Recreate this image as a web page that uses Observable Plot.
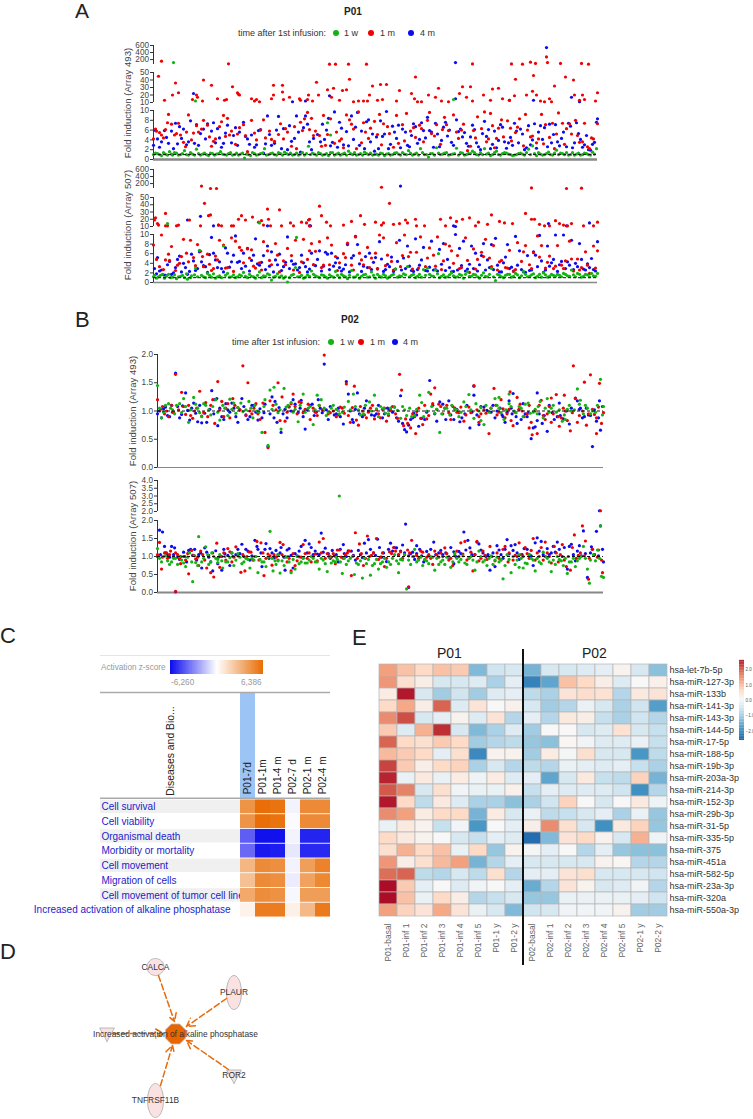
<!DOCTYPE html>
<html><head><meta charset="utf-8">
<script src="https://cdn.jsdelivr.net/npm/d3@7"></script>
<script src="https://cdn.jsdelivr.net/npm/@observablehq/plot@0.6"></script>
<style>
html,body{margin:0;padding:0;background:#fff}
#page{position:relative;width:753px;height:1119px;overflow:hidden;font-family:"Liberation Sans",Arial,sans-serif;color:#222}
.t{position:absolute;white-space:nowrap;line-height:1}
</style></head><body><div id="page"></div>
<script>
// Panels A and B: [probe order, fold induction], flat pairs
const a1Red=[8,155,75,80,176,70,182,70,195,70,213,70,319,75,358,75,369,70,377,125,382,90,393,275,394,115,407,90,428,90,435,70,
5,45,11,13,19,20,22,36,25,23,39,14,43,20,44,17,49,12,50,40,58,33,64,15,71,13,73,14,79,31,84,23,85,21,86,20,98,15,101,12,103,14,106,11,118,15,120,20,120,33,129,24,129,33,130,14,136,17,146,15,147,13,154,14,155,20,159,12,163,37,165,20,174,27,178,17,180,29,186,13,189,26,193,27,196,41,200,11,205,12,210,12,214,12,216,20,219,32,224,13,227,34,229,14,233,34,243,12,246,26,258,22,261,15,262,44,264,11,268,11,275,20,282,17,285,29,288,12,295,11,306,22,309,31,313,17,317,31,319,12,330,20,337,13,339,28,345,29,349,15,356,13,361,19,362,41,373,20,379,25,380,46,383,20,387,12,391,11,396,15,398,11,401,32,412,44,420,40,421,20,426,13,429,20,431,14,444,23,442,12,
0,4.2,3,5.8,6,5.5,10,4.4,12,6.1,15,9.2,18,7.2,21,5,25,7.4,27,5,30,3.5,33,5.6,35,9.1,40,5.4,45,5.6,50,8,54,7,58,2.7,62,4.2,66,6.7,70,9,74,8.4,78,5.8,82,3.1,86,6.5,90,7.1,94,1.6,98,8,103,4,107,6,112,4.4,116,5.8,121,3.7,125,5.1,130,4.2,134,5.6,138,2.7,143,2.2,147,7.6,151,8.3,154,9.6,158,8.4,162,5.8,166,4.9,170,9,174,5.1,177,8.3,181,3.3,186,3.8,190,2.4,196,8.1,200,6.2,205,9.7,208,3.4,212,5.6,217,6.4,221,7.8,226,9.2,230,7.3,236,5.3,240,2.5,245,3.3,249,7.1,253,9.4,257,5.8,262,4.5,266,7,270,3.6,274,8,278,5.3,283,7.1,287,3.1,291,8.6,295,5.9,300,9.1,305,4.3,310,7.2,314,1.8,320,5.9,324,8.7,328,6.3,333,3.6,337,9.4,341,2.4,345,6.4,350,4.6,354,7.9,358,3.8,362,5.5,366,8.3,370,2.8,374,6,379,4.8,383,3.4,388,9.2,392,7.1,396,4.5,401,2.2,405,9.5,409,7.4,413,6.3,418,5.2,422,8,426,3.5,431,7.4,436,2.2,440,4.2,444,7.3,
2,6.2,8,5,14,7.5,23,5.3,32,2.6,38,4,43,6.9,48,6.2,56,4.6,60,3.7,68,7.7,72,4.7,76,5,84,5.2,92,4.9,101,5.4,110,8.1,118,4.1,127,7.3,132,6.3,141,6.7,149,5.9,156,6.1,160,4.9,168,2.7,172,2.9,183,5.6,188,4.2,193,9.1,198,7.2,203,2.2,210,7.5,215,4.3,224,5.1,228,3,234,6.7,243,9,251,3.8,260,6.5,268,6.3,276,9.6,281,4.8,289,6.1,293,7.1,303,5.6,308,6,317,2.7,322,4.4,331,9.7,335,4.2,339,6.9,343,4.3,348,8.1,357,6.4,364,6.6,372,9.2,377,4.6,385,4.2,390,3.2,399,7.4,403,5.2,411,3.1,416,7.3,424,4.9,429,3.6,434,2.6,438,4.4];
const a1Blue=[393,540,302,115,
176,19,139,11,152,12,302,15,356,13,380,13,418,17,426,11,40,22,
0,2.9,4,4.2,8,3.6,11,5.9,15,3.3,18,5.8,22,7.4,26,6.7,30,6.2,33,3,37,7.9,41,3.3,45,2.9,50,6.2,54,7.3,58,5.8,62,3.4,66,4.4,70,3.3,74,7,78,3.4,82,6.5,86,5.6,90,7.6,94,4.2,98,5,103,3,107,6.1,112,3.2,116,5.1,121,3.3,125,8.8,130,6.3,134,2,138,3.7,143,8.9,147,1.5,152,8.9,156,3.6,160,4.3,164,5.1,169,7.2,173,6,177,2.8,181,9.7,186,7.6,190,3,195,2.8,200,4.1,204,9.6,208,5.8,213,7.7,217,3.6,221,1.7,225,2.2,229,4.7,233,9.8,237,3.1,241,5.6,245,7,249,6.2,254,2.9,258,4.9,262,6.7,266,4.1,270,5.9,274,8.6,278,5.6,282,7.4,286,2.6,290,6.6,294,4.8,298,3.5,303,8.1,307,6.2,311,5.5,315,2.7,319,7,323,3.4,327,2,331,7.8,335,6.1,339,3.1,343,2.4,347,7.1,351,3.6,355,3.4,359,2.9,363,5.8,367,6.2,371,2,375,6.9,379,4,383,2.3,387,6.9,391,6.5,396,7.2,400,5.1,404,3.6,408,4.3,413,2.6,417,6.8,421,3.4,425,5.3,429,2.5,433,4.9,437,1.9,441,3.5,444,8.3,
2,5.9,6,2.5,13,4.5,20,2.2,24,3.2,28,4.3,35,3.6,43,7.1,47,5.3,52,4.2,60,7.5,64,6.3,68,2.5,72,5.4,80,4.9,84,2.9,92,4.7,96,3.1,101,2.5,105,5.9,110,1.3,114,8.9,118,2.9,123,6,128,2.2,136,6.9,141,4.3,145,5.6,150,6.5,154,7.2,158,2,167,3.6,171,4.1,175,8.4,179,3.5,184,2.5,188,6.4,193,5.7,198,8.9,202,6.6,206,2.9,211,2.2,215,8.1,219,5.2,223,4.6,227,7.9,231,5.2,235,2.2,239,6.8,243,4.3,247,2.4,252,5.6,256,2.6,260,7.3,264,3.3,268,7.5,272,4.4,276,5.9,280,2.5,284,5.2,288,3.9,292,7.6,296,6,300,2.9,305,5.7,309,4.6,313,3.3,317,4.6,321,6.1,325,2.6,329,5.3,333,4.7,337,2.2,341,5.8,345,3.9,349,6.6,353,2.3,357,4.5,361,7.4,365,3.4,369,5.2,373,2.4,377,3,381,7.3,385,5.6,389,4.1,394,2.6,398,3.4,402,7.1,406,2.8,410,5.6,415,7.4,419,2.4,423,7.5,427,4.1,431,3,435,2,439,3.1,443,7.6];
const a1Green=[20,115,42,12,174,7.5,177,5,300,14,
0,1,4,1.2,8,.8,12,1.1,16,1.6,19,.9,23,1.3,27,1,31,1.8,35,.9,39,1.1,43,2.1,47,.9,51,1.3,55,.8,59,1.2,63,1.1,67,1.6,71,1,75,1.2,79,.9,83,1.3,87,1.1,91,.3,95,1,99,1.4,103,.9,107,1.2,111,2.2,115,1,119,1.3,123,.9,127,1.2,131,1.5,135,1,139,.9,143,1.3,147,1.1,151,.9,155,2.7,159,1.3,163,.9,167,1.2,171,1,175,.8,179,1.4,183,1.1,187,.9,191,1.3,195,1.7,199,1,203,.9,207,1.2,211,1.5,215,1,219,.9,223,1.1,227,1.3,231,.8,235,1.2,239,1,243,1.4,247,.9,251,1.1,255,1.8,259,.9,263,1.3,267,2.2,271,1,275,.5,279,1.2,283,2.4,287,1,291,1.3,295,.9,299,1.1,303,2.3,307,1.4,311,.9,315,1.2,319,1.7,323,1,327,1.4,331,2.2,335,1.3,339,1,343,1.7,347,.9,351,1.4,355,1.1,359,.8,363,1,367,1.3,371,.9,375,2.1,379,2.8,383,.8,387,1.1,391,1,395,1.5,399,.9,403,1.9,407,1.3,411,1,415,.9,419,1.4,423,1.1,427,.9,431,1.3,435,1,439,1.5,443,2.2,
2,1.3,6,1,10,1.4,14,.9,18,1.1,21,1.4,25,.9,29,1.2,33,1,37,1.4,41,.9,45,1.2,49,1.1,53,1,57,1.3,61,.9,65,1.2,69,1.1,73,.9,77,1.4,81,1,85,.9,89,1.3,93,1.1,97,.8,101,1.2,105,1,109,1.3,113,.9,117,1.2,121,1,125,1.4,129,.9,133,1.2,137,1.3,141,1,145,.9,149,1.4,153,1.2,157,1,161,1.1,165,1.4,169,.9,173,1.2,177,1.4,181,.9,185,1.3,189,1.1,193,.9,197,1.2,201,1.4,205,1,209,.9,213,1.2,217,1.3,221,1,225,.9,229,1.2,233,1.1,237,.9,241,1.3,245,1.1,249,1.4,253,1,257,1.3,261,1.1,265,.9,269,1.4,273,1,277,1.2,281,.9,285,1.3,289,1.1,293,1.4,297,1,301,1.2,305,.9,309,1.3,313,1,317,1.2,321,1.4,325,.9,329,1,333,1.1,337,.8,341,1.4,345,1,349,1.2,353,1.3,357,1,361,.9,365,1.2,369,1.1,373,1.4,377,1,381,1.2,385,1.4,389,.9,393,1.2,397,1,401,1.3,405,1,409,1.2,413,1.4,417,1,421,.9,425,1.3,429,1,433,1.2,437,.9,441,1.1];
const a2Red=[48,130,57,60,63,60,228,95,378,75,413,60,428,70,
1,19,2,22,4,14,5,12,12,28,12,11,14,11,23,11,25,12,36,19,47,11,51,42,55,25,57,26,65,12,68,11,78,11,80,11,85,20,88,25,92,19,99,23,105,16,108,18,110,12,114,34,115,20,117,11,126,33,128,11,137,15,140,11,148,16,153,15,155,19,156,11,156,20,166,38,168,25,173,16,177,11,190,12,198,17,207,25,211,13,222,16,228,12,230,15,236,42,240,13,246,14,252,19,254,15,262,20,263,11,271,11,287,20,292,11,297,22,303,17,309,20,316,22,322,11,325,16,334,13,338,26,346,17,351,15,359,14,372,28,378,20,381,20,386,13,391,11,396,11,402,18,406,14,410,12,414,11,418,14,430,11,440,11,444,16,
0,7.8,3,4.8,8,9.9,12,4.7,15,5.9,18,7.5,22,2.5,26,4,30,9,33,6.1,37,8.8,40,5.2,44,7.9,47,6.5,50,3.3,54,5.9,58,2.5,62,5.5,66,8.8,70,7.8,74,3.1,78,9.3,82,8.6,86,7.3,90,4.1,94,7,98,6.8,102,3,106,4.1,110,8.5,114,6.6,118,3.7,122,8.1,126,2.2,130,4.5,134,7.1,138,5.6,142,8.8,146,2.1,150,9,154,4.8,158,8.1,162,6.5,166,8.5,170,3.6,174,9.3,178,7.8,182,5.4,186,4.1,190,6,194,8.2,198,3.6,202,9.5,206,6.1,210,3.7,214,7.3,218,5.1,222,6.1,226,9.9,230,9.3,234,5.7,238,4.4,243,8.3,247,3.3,251,9.9,255,5.4,259,2.8,263,6.3,267,9.5,272,3.3,276,7.2,280,5.7,284,9.5,288,2.7,292,8,296,7.6,300,4,304,5.6,308,3.1,312,9.3,316,2.1,320,7,324,4.8,328,6.3,332,9,336,5.1,340,7.7,344,2.6,348,4.6,352,3.1,356,6.7,360,2.3,364,8.3,368,4.4,372,7.7,376,3.7,380,6.2,384,9.7,388,7.7,392,3,396,5.5,400,2.9,404,7.7,408,3.6,412,4.5,416,8.6,420,2.4,424,4.9,428,3.1,432,6.4,436,1.9,440,7.6,444,6.6,
6,3.3,10,2.7,16,4.6,24,3.6,28,5.4,35,4.3,42,3.5,49,5.4,56,3.8,60,2.9,64,4.7,72,3,80,2.3,88,6.7,96,5.1,100,3.4,108,2.6,116,4.6,124,5.7,132,3.7,140,2.6,148,4.3,156,6.6,160,3.7,168,3.1,176,3.7,184,2.5,192,5.2,200,2.6,208,4.7,216,3.1,224,2.8,232,3.5,240,2.6,249,5.6,257,6.3,265,3,274,5.1,282,3.4,290,4.5,298,6.6,306,2.9,314,4.6,322,2.8,330,5.4,338,3.3,346,4.3,354,3,362,2.7,370,6.4,378,2.9,386,5.3,394,4.2,402,3.4,410,2.9,418,4.9,426,2.6,434,3.6,442,3];
const a2Blue=[247,130,
34,19,47,24,60,11,65,12,114,11,157,11,156,11,300,11,395,14,413,11,436,15,
1,2.9,4,5.2,6,2.4,10,1.6,14,3.7,18,1.7,22,3.1,26,5.5,30,4,34,1.7,38,5.9,42,2.5,46,6.4,50,3.5,54,2.1,58,9.4,62,4.7,66,4.3,70,2.2,74,6.1,78,4.3,82,9.7,86,4.4,90,6.1,94,7.1,98,4.6,102,9.1,106,3.6,110,5.6,114,7.6,118,6.4,122,4.7,126,5.9,130,3.3,134,9.5,138,4.5,142,3.9,146,3.1,150,4.1,154,2.2,158,6.1,162,3.5,166,6.6,170,3.4,174,5.9,178,6.1,182,4.1,186,3.1,190,2.8,194,7.9,198,5.1,202,9.6,206,3.9,210,3.4,214,3.1,218,2.7,222,5.2,226,8.5,230,2.3,234,3.8,238,5.3,242,2.8,246,8.8,250,5.1,254,7.6,258,2.5,262,9.1,266,3.6,270,7.3,274,2.4,278,8.6,282,2.7,286,6.9,290,8.1,294,4.8,298,2.2,302,10,306,7.1,310,8.6,314,2.8,318,7.6,322,6.1,326,3.7,330,8.1,334,4.7,338,7.9,342,9.2,346,2.2,350,4.1,354,7.9,358,3.2,362,9.6,366,6.6,370,2.2,374,5.6,378,2.6,382,5.7,386,9.8,390,2.1,394,7.6,398,4.1,402,9.9,406,3.7,410,9.9,414,4.3,418,8.8,422,4,426,8.1,430,2.8,434,3.9,438,5,442,2.4,444,8.5,
3,1.8,8,2.6,12,1.5,16,4.4,20,2,24,4.8,28,2.2,32,3.1,36,2.3,40,4.5,44,2.9,48,4.3,52,3.3,56,5.8,60,6.1,64,3.1,68,2.9,72,7.2,76,3.2,80,5.7,84,4.2,88,2.9,92,3.4,96,2.4,100,5.7,104,3.9,108,4.2,112,2.7,116,3.4,120,2.2,124,3.7,128,2.5,132,4.2,136,2.9,140,3.8,144,2.6,148,5.7,152,3.3,156,2.8,160,3.7,164,4.8,168,2.4,172,6.3,176,2.7,180,3.4,184,5.1,188,2.4,192,3.7,196,2.2,200,5.6,204,7.9,208,2.3,212,5.4,216,6.1,220,4.2,224,2.9,228,4.9,232,2.7,236,3.3,240,2.3,244,4.4,248,2.6,252,2.9,256,3.4,260,2.3,264,2.7,268,4.7,272,2.5,276,3.2,280,2.6,284,2.4,288,3.8,292,2.5,296,3.1,300,2.3,304,2.6,308,3.5,312,2.4,316,3.8,320,2.9,324,2.4,328,5.6,332,2.6,336,3.1,340,2.7,344,3.6,348,2.2,352,5.3,356,2.9,360,2.4,364,3.6,368,2.7,372,2.1,376,2.5,380,6.4,384,3.3,388,4.5,392,2.6,396,3.4,400,4.8,404,2.3,408,4.4,412,2.9,416,3.6,420,2.7,424,3.3,428,4.8,432,2.6,436,3.1,440,2.7];
const a2Green=[14,14,106,15,143,9.4,285,6,
0,1.2,3,.9,7,1.5,11,.9,15,1.7,19,1.1,23,.8,27,1.3,31,1,34,.7,38,1.4,42,3,46,6.7,50,1.2,54,1.9,58,1.1,62,.9,66,1.4,70,7.6,74,1.9,78,1.2,82,1,86,1.6,90,2.1,94,1,98,1.3,102,.9,106,2.2,110,1.4,114,1.8,118,.5,122,1.3,126,1.1,130,.9,134,.1,138,1.5,142,3.1,146,1.2,150,.9,154,1.6,158,2.4,162,1.4,166,1,170,1.5,174,.9,178,1.3,182,2.3,186,1,190,1.4,194,.8,198,2.5,202,1.2,206,.9,210,1.6,214,1.1,218,2.2,222,.9,226,1.3,230,1.7,234,.9,238,1.5,242,2.8,246,1.4,250,1.8,254,3.3,258,1.5,262,1,266,1.7,270,2.7,274,3,278,1.4,282,2.6,286,1,290,1.6,294,1.2,298,2,302,1.1,306,1.7,310,.9,314,2.2,318,1.3,322,1.6,326,.9,330,2,334,1.2,338,2.9,342,.4,346,1.5,350,1,354,1.7,358,1.1,362,1.9,366,1,370,2.3,374,1.2,378,1.6,382,1,386,1.7,390,2,394,1.1,398,1.7,402,1.3,406,1.5,410,1.9,414,1.4,418,2.6,422,1.2,426,1.7,430,1.3,434,1.6,438,1.9,442,1.3,
1,1.5,5,1.2,9,1.7,13,1.3,17,1,21,1.6,25,1.2,29,1.5,33,1.8,37,1,41,1.6,44,1.2,48,1.5,52,1,56,1.5,60,1.8,64,1.2,68,1,72,1.5,76,1.1,80,1.6,84,1.2,88,1.4,92,1.3,96,1.7,100,1.2,104,1.5,108,1,112,1.3,116,1.6,120,1.1,124,1.8,128,1.4,132,1.2,136,1,140,1.7,144,1.2,148,1.5,152,1.1,156,1.3,160,1.7,164,1.2,168,1.6,172,1.2,176,1.6,180,1.1,184,1.5,188,1.7,192,1.2,196,1.5,200,1.1,204,1.6,208,1.3,212,1.7,216,1.2,220,1.5,224,1.7,228,1.1,232,1.4,236,1.2,240,1.7,244,1.1,248,1.3,252,1.6,256,1.2,260,1.7,264,1.3,268,1.1,272,1.5,276,1.7,280,1.3,284,1.8,288,1.3,292,1.1,296,1.6,300,1.4,304,1.2,308,1.5,312,1.7,316,1.3,320,1.7,324,1.2,328,1.5,332,1.3,336,1.7,340,1.2,344,1.7,348,1.2,352,1.5,356,1.7,360,1.3,364,1.6,368,1.4,372,1.7,376,1.3,380,1.8,384,1.3,388,1.1,392,1.6,396,1.3,400,1.5,404,1.7,408,1.2,412,1.7,416,1.3,420,1.6,424,1.9,428,1.1,432,1.7,436,1.2,440,1.4,444,1.9];
const b1Red=[0,1.2,3,1.03,7,.95,11,.9,14,1.1,18,1.65,21,1.02,24,1.33,28,.94,31,1.1,35,.87,39,1.05,42,1.35,46,.97,50,.9,53,1.1,57,.78,60,1.52,64,1.17,68,1.05,72,.88,75,1.22,80,1.06,85,1.8,88,.92,90,1.5,94,.95,98,1.13,102,.85,107,.62,110,.35,115,1.1,120,1.5,124,1.25,127,.82,131,1.07,135,1.3,139,.95,143,1.15,147,1.03,152,.85,157,.98,161,1.1,166,1.99,170,.95,175,1,180,.93,184,1.05,188,1.48,192,.8,196,1.44,200,.75,204,1,208,.88,212,1.05,216,.86,220,.95,224,1.03,228,.82,232,1.01,237,.95,241,1.65,243,1.37,245,.74,249,.78,252,.7,256,.9,260,1.05,264,.76,268,.86,272,1.3,276,1.41,280,1.12,284,.95,288,1.1,292,.85,296,1.05,300,.97,305,.82,310,1.07,315,1.45,320,.9,325,1.02,330,.6,335,1.4,338,.93,342,1.2,346,.88,350,1.03,354,.74,358,1.24,363,1,368,.95,373,.58,378,.6,382,1.19,388,.95,392,.8,397,1.29,402,.88,406,1,411,.65,414,1.8,418,.8,423,1,427,.75,431,1.64,435,.94,439,1.07,444,.97,400,.73,370,.7,352,.83,257,.6,360,1.03,440,1.49,437,.6,425,1.51,416,1.22,405,1.28,380,1.1,370,1.1,351,1.34,320,.8,392,1.23,
5,1.08,9,1,16,.98,26,1.08,33,.92,37,1,44,.91,48,1.15,55,1.2,62,1.02,66,.9,70,1.13,77,1.1,82,1.02,92,1,96,1.05,100,.95,105,1.14,112,1.18,118,1.02,122,.83,129,.98,133,1.13,137,1.08,141,1.16,145,.97,150,1.12,155,1.05,159,.92,164,1.02,172,.97,178,.9,182,1.07,186,.96,190,.92,194,1.06,198,.84,202,1.08,206,.93,210,.98,214,1.1,218,1.02,222,.88,226,1.05,230,.92,234,1.08,239,.87,247,.86,254,.95,258,.99,262,.87,266,1.1,270,.92,274,1.13,278,1.03,282,1.08,286,1.05,290,.97,294,1.08,298,.98,302,1.07,307,.93,312,.97,318,1.02,322,.95,327,.96,332,1.05,337,1.1,340,.98,344,1.04,348,.95,356,.98,361,1.12,365,.9,372,.8,376,1,384,.92,386,.85,390,1.08,394,.95,399,.9,404,1.05,408,.83,413,.97,420,.92,429,.95,433,1.03,437,.88,442,.78];
const b1Blue=[0,.95,4,.88,8,1.07,12,.9,15,.98,18,1.67,22,.88,25,1.09,28,1.32,32,.84,36,1.14,40,.81,44,.79,49,.8,54,1.36,57,1.2,60,.74,64,.9,68,1.13,72,.98,76,1.05,80,.8,84,1.22,88,.93,92,.9,96,1.1,100,.84,104,.88,107,1.12,110,.37,114,1.25,117,1.17,119,.8,123,.62,127,1.03,131,1.08,135,1.2,140,.97,143,1.19,147,.68,152,1.1,156,.92,162,1.05,166,1.83,170,.85,176,.93,180,1.05,185,.77,188,1.52,192,1,195,.8,199,1.32,204,.9,208,1.18,213,.93,218,.95,224,.88,229,1.05,234,.98,238,.88,242,1.27,246,.67,248,.63,252,.85,255,.96,260,.73,266,.85,271,1.54,276,.95,281,1.16,287,.85,290,1.18,295,.85,301,.81,306,.95,311,.7,315,1.44,320,.76,325,1.07,332,.98,336,.88,341,1.05,346,.8,350,1.18,354,1.31,357,.9,362,.85,366,.95,372,.51,376,.72,378,1.32,383,.78,388,.64,393,.97,398,.9,404,.86,410,.77,416,1.23,420,1.03,425,.9,429,.93,433,.37,437,.82,441,.66,315,1.28,353,.95,358,.78,378,.83,400,1.14,421,1.05,344,.9,369,.97,440,1.18,
2,1,6,1.04,10,.92,14,1.1,20,1.08,24,.94,30,1.01,34,1.05,38,.96,42,1.1,47,.96,52,1.03,56,.95,59,1.22,62,1.05,66,.85,70,1.02,74,1.14,78,.9,82,1.02,86,1.08,90,.85,94,1.1,98,.98,102,1.04,106,.97,112,.95,116,.88,121,1.06,125,.95,129,.88,133,1,137,1.12,142,1.05,145,.9,149,1.02,154,1.12,158,.98,160,1.2,164,.97,168,1.02,172,1.08,178,.95,182,.9,190,1.3,194,.85,197,1.03,201,.95,206,1.05,210,1,216,.92,220,1.1,226,.95,231,1.03,236,1.07,240,.82,244,.78,250,.75,254,.88,258,.93,263,.87,268,.98,274,1.1,278,.82,284,1.12,292,.93,298,1.03,303,.88,308,1.1,313,.98,318,.93,322,1.08,328,1.01,334,1.1,338,1,343,.93,348,.98,352,1.05,360,1.03,364,1.13,368,.9,374,.7,380,.95,385,.92,390,1.1,395,.85,401,.92,407,1,412,1.05,418,1.18,423,.88,427,1.05,431,.92,435,1.02,439,.88,443,1.08];
const b1Green=[0,1.45,4,.88,8,1.1,13,1.05,17,.95,22,1.13,26,1.22,31,.8,36,1.24,40,1.05,44,.9,48,1.1,53,.93,58,1.2,62,.84,67,1.05,72,1.21,76,1.14,80,1.06,85,.99,91,1.17,95,.88,99,1,104,.62,107,1.2,110,.39,112,1.37,116,1.42,120,.97,123,.68,126,1.4,130,1.1,135,.98,140,.81,145,1.3,150,1.05,155,.76,159,1.28,163,1.2,168,.92,173,1.05,178,1.03,184,.98,190,1.17,195,1.3,200,1.02,205,.95,211,1.16,216,1.28,220,.9,225,1.05,230,.95,236,1.07,242,.87,246,1.02,251,1.05,256,.92,261,1.28,265,.9,270,1.33,276,.96,281,.62,286,1.05,291,.93,296,1.03,300,.9,305,1.16,310,1.29,315,.87,320,1,325,.76,330,.98,336,1.22,340,1.05,345,.85,350,1.13,355,1,360,1.08,364,.9,369,1.14,374,.98,379,1.08,384,.88,388,1.22,392,1.05,397,.98,403,.82,408,1.03,412,1,418,1.39,421,1.19,426,1.1,431,.95,436,.98,441,1.56,444,1.08,350,1.3,322,.83,340,1.24,378,.95,406,.85,
2,1.05,6,.98,11,1.13,15,1.02,19,1.1,24,.97,28,1.08,33,1.02,38,1.12,42,.97,46,1.13,51,1.02,55,1.08,60,.98,65,1.1,70,.92,74,1.03,78,.96,83,1.14,88,1.02,93,1.05,97,1.1,101,.98,106,1.08,114,1.03,118,1.12,122,1.02,128,1.07,133,1.15,137,1.03,142,1.1,147,.98,152,1.08,157,1.02,161,1.1,166,1.05,170,.97,175,1.1,181,.95,186,1.07,192,1.02,197,1.08,202,.93,207,1.1,213,1,218,1.04,222,1.08,227,.96,232,1.05,239,1.01,244,1.08,248,.92,253,.9,258,1.03,263,1.15,268,1,273,1.08,278,1.03,283,.95,288,1.05,293,1.1,298,1.02,302,.98,307,1.08,312,1.02,317,1.13,322,1.06,327,1.1,332,1.05,338,1.1,342,.97,347,1.02,352,1.08,357,.97,362,1.05,366,1.12,371,.96,376,1.03,381,1.17,386,1.05,390,.98,394,1.1,400,1.02,405,.93,410,1.1,415,1.02,420,1.12,424,.95,428,1.05,433,1,438,1.1,443,.93];
const b2Blue=[0,1,2,1.73,5,1.68,7,1.28,10,1.05,14,1.28,17,1.24,20,.98,23,1,26,1.12,29,.85,33,1.2,37,1.2,41,1.05,44,.68,47,1.24,51,.98,55,.6,60,.8,64,.62,67,1.08,72,.75,75,1,80,1.2,84,1.34,88,1.2,92,.9,97,1.45,100,1.2,104,.72,108,1.36,112,1.22,116,.96,120,1.05,123,1.25,127,.62,131,1.22,135,.68,139,1.02,143,1.28,147,1.45,151,1.35,155,1.05,159,1.07,163,1.65,167,1.23,172,.95,176,1.02,180,.85,185,1.33,188,1,193,1.15,197,.9,202,1.05,206,1.37,210,1.47,215,1.1,219,1.48,223,.98,228,.86,232,1.37,236,1.25,240,1.05,244,1.32,247,1.9,252,1.08,256,.92,261,1.2,265,.85,270,1.02,275,1.4,280,1.1,284,1.05,290,.98,295,1.13,300,1.14,305,1.68,309,1.45,313,1.05,318,1.4,322,1.18,327,1,331,.62,336,.72,340,1.18,344,.95,348,1.47,352,1.3,356,1.33,360,.92,365,1.22,370,1.05,374,.75,378,1.52,382,1.42,386,1,390,1.05,394,1.28,398,1.4,403,1,408,.65,412,1.34,416,.88,420,1.3,424,1.71,428,.42,432,1.27,437,1.7,441,1.85,444,.85,440,2.05,18,.02,433,1.2,258,1.3,295,.8,250,.14,
3,1.05,8,1.1,12,.98,16,1.05,22,.92,27,1,31,1.17,35,1.03,39,.9,43,1.1,49,1.12,53,.85,58,1.16,62,1,66,1.2,70,1.03,74,1.1,78,1.05,82,1.08,86,1,90,1.15,94,1.02,99,1.28,103,1.1,107,1.2,111,.95,114,1.1,118,1.17,122,1.1,126,.98,129,1.18,133,1.03,137,1.08,141,1.15,145,.96,149,1.1,153,1.25,157,1.15,161,1.05,165,1.12,170,1.08,174,1.17,178,1.05,182,1.2,186,1.08,190,1.16,195,1.03,200,1.17,204,.97,208,1.1,212,1.2,217,1.03,221,1.25,225,1.1,230,1.2,234,1.15,238,1.24,242,1.15,246,1.1,250,1.02,254,1.12,258,1.08,263,1.02,268,1.14,272,1.2,277,1.05,282,1.17,287,1.1,292,1.25,297,1,302,1.08,307,1.18,311,1.24,316,1.05,320,1.35,324,1.1,329,1.05,334,1.1,338,1.3,342,1.05,346,1.2,350,1.07,354,1.17,358,1.1,363,1.05,368,1.2,372,1.02,376,1.38,380,1.15,384,1.05,388,1.22,392,1.1,396,1.12,400,1.2,405,1.25,410,1.28,414,1.05,418,1.15,422,1.02,426,1.08,431,1.1,435,1.05,439,1.02,443,1.2];
const b2Red=[0,1.05,2,1.39,4,.65,7,1.1,10,.95,13,1.15,16,.98,20,1.05,23,.8,28,.9,31,.52,34,1.17,38,.93,41,.75,45,1.05,49,.68,53,.55,56,.43,59,1.37,62,.7,66,1.1,70,1.22,74,.85,78,1.27,83,.56,87,.6,91,1.13,95,.9,99,1.42,103,1.38,106,.47,110,1.07,114,.76,118,.98,122,1.39,125,1.33,129,.85,133,.6,137,.75,141,.99,145,1.33,149,.95,153,.85,157,1.07,161,1.4,165,1.5,169,1.08,173,.98,177,.8,181,1.18,185,.95,189,1.1,193,.47,197,1.66,201,1.35,205,.75,209,1.57,213,1.03,218,1.5,222,.98,226,.72,231,1.13,235,1.25,240,1.03,244,.95,249,1.18,253,1.45,258,1.03,262,1.15,266,.9,270,1.05,274,.78,278,1.05,282,1.1,286,1.24,290,.9,294,.75,298,1.15,302,1.38,306,1.42,310,.95,314,.6,318,1.42,322,.95,326,1.03,331,1.28,336,.88,340,.95,344,1.2,349,.85,354,.9,358,1,362,1.05,366,1.25,370,.95,374,1.5,378,1.1,382,1.25,386,1.4,390,1,395,1.28,399,.85,403,1.33,407,.72,411,.62,415,1.6,419,1.03,423,1.85,426,1.43,429,.37,433,1.2,438,.98,441,2.05,443,.55,250,.16,18,.03,
5,.98,9,1.1,12,1.05,18,1.1,22,.95,26,1,30,1.08,36,1.03,40,.98,43,1.15,47,.9,51,1.03,55,1.1,60,.95,64,1,68,.9,72,1.13,76,.98,80,1.02,85,1.05,89,1,93,1.12,97,1,101,.9,105,1.1,108,.95,112,1.02,116,1.05,120,.9,124,1.05,127,1,131,.95,135,1.08,139,.88,143,.98,147,1.08,151,1.1,155,1,159,.88,163,1.1,167,.95,171,1.02,175,1.08,179,1.18,183,.98,187,1.05,191,1.15,195,1.02,199,.95,203,1.08,207,.95,211,1,215,1.1,220,.92,224,1.1,228,.95,233,1.08,237,1.15,242,1.13,246,1.05,251,1.1,255,1,260,.95,264,1.12,268,.98,272,.95,276,1.15,280,.98,284,1,288,1.08,292,.95,296,1.03,300,1,304,1.07,308,.9,312,1.12,316,1.05,320,.88,324,1.15,328,.92,333,1,338,1.1,342,.9,346,1.28,350,1.1,356,1.03,360,1.38,364,1,368,1.08,372,1.17,376,.9,380,1,384,.9,388,1.1,392,.82,397,1.1,401,1.05,405,.9,409,1,413,1.25,417,.95,421,1.1,425,1.02,430,.95,435,1.05,439,1.18,442,.9];
const b2Green=[0,1.22,4,.85,8,1.02,12,.78,16,.95,20,.78,24,.9,28,.72,32,1.1,35,.3,38,.83,41,1.55,44,.85,48,1.27,51,.78,54,1.1,58,.95,62,1.05,65,.68,68,.85,72,.97,76,.75,80,1.08,84,.8,88,.95,92,.68,96,.9,100,.55,104,.85,108,.72,112,1.7,115,.6,118,.78,122,.54,126,.75,130,1,133,.55,137,.65,141,.8,145,.95,149,.82,153,1,157,.85,161,.65,165,.9,169,.58,173,.82,177,.85,181,3,184,.53,188,.78,192,.95,196,.5,200,.78,204,.4,208,.8,212,.48,216,.8,220,.65,224,.85,228,.7,232,.78,236,1.05,240,.55,244,.9,248,.1,252,.78,256,1.2,260,.9,264,.75,268,.88,272,1,276,.62,280,.78,284,.9,288,.98,292,.7,296,1.08,300,.85,304,1.02,308,.78,312,1,316,.62,320,1.15,324,.85,328,.75,332,1.02,336,.9,340,.85,344,.38,348,1.05,352,.55,356,.78,360,1.05,364,.68,368,.8,372,.95,376,.6,380,.85,384,1.12,388,.95,392,.58,396,.78,400,.92,404,.75,408,.53,412,.85,416,.72,420,.95,424,1.28,428,.65,430,.26,434,1.05,438,1.18,441,1.85,442,.45,444,.42,178,.98,360,.7,240,.8,120,.88,60,.83,
2,.95,6,1,10,.88,14,.85,18,.95,22,1,26,.82,30,.98,34,.85,37,1.02,40,.75,46,.95,50,1.05,53,.85,56,1,60,.92,64,.88,67,1,70,.85,74,1.1,78,.9,82,.98,86,.85,90,.92,94,.95,98,1,102,.92,106,.85,110,.98,114,.95,117,.88,120,1.05,124,.88,128,.98,131,.85,135,.92,139,1,143,.85,147,.82,151,.9,155,.95,159,.85,163,.95,167,.8,171,.98,175,.88,179,.92,182,.85,186,.95,190,.88,194,1,198,.82,202,.88,206,.95,210,.92,214,.75,218,.92,222,.8,226,.95,230,.85,234,.95,238,.88,242,.92,246,1.05,250,.9,254,1,258,.85,262,.98,266,.92,270,.8,274,.98,278,.95,282,.85,286,.78,290,1,294,.85,298,.95,302,.92,306,.82,310,.95,314,.9,318,.85,322,1,326,.9,330,.95,334,.78,338,.98,342,.92,346,.75,350,.92,354,1,358,.9,362,.95,366,.82,370,1.05,374,.9,378,.95,382,.8,386,1,390,.85,394,.9,398,1,402,.88,406,.95,410,.85,414,.95,418,.88,422,1,426,.95,431,.9,436,.88,440,.95];

// Panel C
const cRows=["Cell survival","Cell viability","Organismal death","Morbidity or mortality","Cell movement","Migration of cells","Cell movement of tumor cell lines","Increased activation of alkaline phosphatase"];
const cCols=["P01-7d","P01-1m","P01-4 m","P02-7 d","P02-1 m","P02-4 m"];
const cZ=[[4.6,6.2,6,-.3,5,5],[4.6,6.2,6,-.1,5,5],[-4.2,-6.2,-6.2,-.3,-5.7,-5.7],[-3.9,-6,-5.9,-.6,-5.6,-5.6],[3.1,5,4.8,-.3,4.1,5.3],[2.7,5,4.8,-.5,4,5.1],[3.7,4.9,4.7,-.2,4.2,4.2],[.5,5.6,5.6,.6,3,5.7]];
// Panel D
const dNodes=["CALCA","PLAUR","TNFRSF11B","ROR2"];

// Panel E
const eRows=["hsa-let-7b-5p","hsa-miR-127-3p","hsa-miR-133b","hsa-miR-141-3p","hsa-miR-143-3p","hsa-miR-144-5p","hsa-miR-17-5p","hsa-miR-188-5p","hsa-miR-19b-3p","hsa-miR-203a-3p","hsa-miR-214-3p","hsa-miR-152-3p","hsa-miR-29b-3p","hsa-miR-31-5p","hsa-miR-335-5p","hsa-miR-375","hsa-miR-451a","hsa-miR-582-5p","hsa-miR-23a-3p","hsa-miR-320a","hsa-miR-550a-3p"];
const eCols=["P01-basal","P01-inf 1","P01-inf 2","P01-inf 3","P01-inf 4","P01-inf 5","P01-1 y","P01-2 y","P02-basal","P02-inf 1","P02-inf 2","P02-inf 3","P02-inf 4","P02-inf 5","P02-1 y","P02-2 y"];
const eZ=[[1.3,.9,.6,.9,.8,-1.4,-.6,-.5,-1.5,-.5,-.5,-.4,-.3,.1,-.5,-1.3],
[1.4,.5,.2,-.5,-.5,-.4,-1,-.3,-2.2,-1.7,.9,.6,.2,-.4,0,.15],
[.25,2.6,-.5,-1.1,-.6,-1.1,-.4,-.3,-.8,-1,.4,.55,.45,-.9,.3,.4],
[.6,1.2,.2,1.9,-.4,.4,0,.15,-.5,-1.1,-.9,-.2,-.5,-1,-.6,-1.8],
[1.5,2.1,-.5,-.3,.1,-.4,.4,-.9,-.3,-.9,.3,.2,-.7,-1,-.6,-.9],
[.8,-.4,1.1,2.4,-.5,-1.4,-1,-.4,-1.1,0,0,-.5,-.4,.45,-.5,-.7],
[1.9,.6,.5,.8,.6,-1.1,-.9,-.8,-1.2,-1.3,.05,-.1,-.4,-.4,-.2,-.7],
[1,.8,.6,-.3,.5,-2.1,.1,.1,-1.1,.25,-.05,.5,-.5,-.5,-1.9,-.8],
[2.2,.8,.2,.6,.7,-1,-.5,-.9,-.8,-.9,-.2,-.3,-.4,-.3,-.7,-1],
[2.5,-.2,.3,-.2,.25,-.15,.25,-.4,-.3,-1.7,-.5,.3,-.7,-.8,.7,-1.5],
[2,1.6,-.5,.5,-.1,-.2,-.2,.15,-.7,-.3,-.4,-.4,-.4,-.6,-2,-.9],
[2.6,.6,-.8,.3,-.4,-1,-1,-1.3,-1,-.6,.7,0,-.5,0,.3,-.15],
[1.5,1.3,.25,.6,.6,-1.5,.25,-.5,-.2,-.8,-.7,-.5,-.3,-1,-.2,-1.2],
[-.2,.3,.1,-.7,-.1,-1.9,0,-.3,.2,1.5,.5,-.5,-2,.3,.7,-1.2],
[.6,.3,.1,0,-.5,-.7,-.3,-.4,-2.5,-1.4,.4,.6,.1,-.5,1.1,-.15],
[.5,1.1,.6,.9,-.2,.6,-1.2,.1,-.05,-.3,0,-.9,-.3,-1.2,-1.3,-1.3],
[1.4,.2,.5,1,1.3,-1.5,-.9,-.3,-.5,-.5,-.5,-.5,.1,.05,-.9,-.9],
[1.8,1.9,-.8,-.9,-.5,-.8,.5,-.9,-.3,-.3,.4,.5,-.5,-.5,-.5,-.6],
[2.7,.8,-.3,0,-.4,-.1,0,-.3,-1.6,-.9,.4,.1,-.5,-.4,-.1,-.9],
[2.7,.9,-.2,.6,.2,-.9,-.7,-.5,-1.2,-1.2,-.2,-.2,-.2,-.2,-.3,-.6],
[1.3,.7,.4,1.2,.4,-.2,-.5,-1.4,-.6,-.5,-.1,-.1,-.1,.1,-1.1,-1.1]];

const GREEN="#12b312",RED="#f00000",BLUE="#0b0bee",INK="#444";
const page=document.getElementById("page");
function pts(flat){const o=[];for(let i=0;i<flat.length;i+=2)o.push({x:flat[i],y:flat[i+1]});return o}
function place(node,left,top){node.style.position="absolute";node.style.left=left+"px";node.style.top=top+"px";node.style.background="none";page.appendChild(node);return node}
function text(s,left,top,size,css=""){const d=document.createElement("div");d.className="t";d.innerHTML=s;d.style.cssText+=`left:${left}px;top:${top}px;font-size:${size}px;${css}`;page.appendChild(d);return d}
function box(left,top,w,h,css){const d=document.createElement("div");d.style.cssText=`position:absolute;left:${left}px;top:${top}px;width:${w}px;height:${h}px;${css}`;page.appendChild(d);return d}

// one segment of a (possibly broken) scatter axis
function seg({L,R,top,bottom,domain,ticks,labels,red,blue,green,ref,base,baseW=1}){
  const mL=30,mT=6,mB=6;
  const inD=d=>d.y>=domain[0]&&d.y<=domain[1];
  const marks=[
    Plot.ruleX([0],{stroke:"#333",strokeWidth:1}),
    Plot.dot(pts(blue).filter(inD),{x:"x",y:"y",r:1.6,fill:BLUE}),
    Plot.dot(pts(red).filter(inD),{x:"x",y:"y",r:1.6,fill:RED}),
    Plot.dot(pts(green).filter(inD),{x:"x",y:"y",r:1.6,fill:GREEN})
  ];
  if(ref)marks.push(Plot.ruleY([1],{stroke:"#111",strokeWidth:1,strokeDasharray:"3,2"}));
  if(base)marks.unshift(Plot.ruleY([0],{stroke:"#888",strokeWidth:baseW}));
  marks.push(Plot.axisY({ticks,tickFormat:(d,i)=>labels[i],tickSize:3,tickPadding:1.5,fontSize:8.2,fill:"#444",stroke:"#333",anchor:"left",label:null}));
  const p=Plot.plot({width:R-L+mL+4,height:bottom-top+mT+mB,marginLeft:mL,marginRight:4,marginTop:mT,marginBottom:mB,
    x:{domain:[0,444],range:[mL,R-L+mL],axis:null},y:{domain,axis:null},style:{background:"none",fontFamily:"Liberation Sans",overflow:"visible"},marks});
  place(p,L-mL,top-mT);
}
function ylabel(s,cx,cy,size=9.6){text(s,cx,cy,size,`color:${INK};transform:translate(-50%,-50%) rotate(-90deg);`)}
function legend(x,y,labelX,dotX){
  text("time after 1st infusion:",x,y-4.5,9,"color:#333");
  [GREEN,RED,BLUE].forEach((c,i)=>{
    box(dotX[i]-3,y-3.5,6,6,`border-radius:50%;background:${c}`);
    text(["1 w","1 m","4 m"][i],labelX[i],y-4,9,"color:#333");
  });
}

// Panel A
text("A",75,0,21);text("<b>P01</b>",344,7,10,"color:#222");legend(238,33,[344,380,420],[336,371,411]);
const big={domain:[60,600],ticks:[200,400,600],labels:["200","400","600"]};
const mid={domain:[10,50],ticks:[10,20,30,40,50],labels:["10","20","30","40","50"]};
const low={domain:[0,10],ticks:[0,2,4,6,8,10],labels:["0","2","4","6","8","10"]};
const A1={L:153,R:597,red:a1Red,blue:a1Blue,green:a1Green};
seg({...A1,...big,top:45,bottom:64});seg({...A1,...mid,top:72,bottom:102});seg({...A1,...low,top:110,bottom:159,ref:true,base:true,baseW:2.5});
ylabel("Fold induction (Array 493)",128,103);
const A2={L:153,R:597,red:a2Red,blue:a2Blue,green:a2Green};
seg({...A2,...big,top:169,bottom:188});seg({...A2,...mid,top:197,bottom:226});seg({...A2,...low,top:234,bottom:282,ref:true,base:true,baseW:1.5});
ylabel("Fold induction (Array 507)",128,225);

// Panel B
text("B",75,309,22);text("<b>P02</b>",341,315,10,"color:#222");legend(232,342,[340,370,403],[331,361,395]);
seg({L:157,R:603,red:b1Red,blue:b1Blue,green:b1Green,domain:[0,2],ticks:[0,.5,1,1.5,2],labels:["0.0","0.5","1.0","1.5","2.0"],top:354,bottom:467,ref:true,base:true,baseW:1});
ylabel("Fold induction (Array 493)",133,411);
const B2={L:157,R:603,red:b2Red,blue:b2Blue,green:b2Green};
seg({...B2,domain:[2,4],ticks:[2,2.5,3,3.5,4],labels:["2.0","2.5","3.0","3.5","4.0"],top:480,bottom:511});
seg({...B2,domain:[0,2],ticks:[0,.5,1,1.5,2],labels:["0.0","0.5","1.0","1.5","2.0"],top:520,bottom:592,ref:true,base:true,baseW:2});
ylabel("Fold induction (Array 507)",133,536);

// Panel C: x axis in heatmap columns, y axis in heatmap rows, negative rows are the header zone
text("C",0,625,22);
const cColor={type:"diverging",domain:[-6.26,6.386],pivot:0,range:["#0a0aee","#ffffff","#e86a00"],interpolate:"rgb"};
const cCells=cZ.flatMap((r,i)=>r.map((z,j)=>({i,j,z})));
const cPlot=Plot.plot({width:330,height:262,marginLeft:0,marginRight:0,marginTop:0,marginBottom:0,
  x:{domain:[-16,6],range:[0,330],axis:null},y:{domain:[-9.76,8],range:[0,262],axis:null},color:cColor,
  style:{background:"none",fontFamily:"Liberation Sans",overflow:"visible"},
  marks:[
    Plot.rect([0,2,4,6],{x1:-9.33,x2:0,y1:d=>d+.05,y2:d=>d+.95,fill:"#f0f0f0"}),
    Plot.text(cRows.slice(0,7),{x:-9.27,y:(d,i)=>i+.5,text:d=>d,textAnchor:"start",fill:"#2222cc",fontSize:10}),
    Plot.text(cRows.slice(7),{x:-.66,y:7.5,text:d=>d,textAnchor:"end",fill:"#2222cc",fontSize:10}),
    Plot.rect([0],{x1:0,x2:1,y1:-7.25,y2:0,fill:"#9cc4f5"}),
    Plot.rect(cCells,{x1:d=>d.j,x2:d=>d.j+1,y1:d=>d.i+.03,y2:d=>d.i+.97,fill:"z"}),
    Plot.text(cCols,{x:(d,i)=>i+.5,y:-.35,text:d=>d,rotate:-90,textAnchor:"start",fontSize:10,fill:"#222"}),
    Plot.text(["Diseases and Bio..."],{x:-4.67,y:-.25,text:d=>d,rotate:-90,textAnchor:"start",fontSize:10.4,fill:"#222"}),
    Plot.ruleY([-.08],{x1:-9.33,x2:6,stroke:"#aaa",strokeWidth:1.5}),
    Plot.ruleY([-7.25],{x1:-9.33,x2:6,stroke:"#aaa",strokeWidth:1.5}),
    Plot.ruleY([-9.76],{x1:-9.33,x2:6,stroke:"#e4e4e4",strokeWidth:1})
  ]});
place(cPlot,0,655);
// colour key in z-score units
const cStops=d3.range(-6.26,6.386,.2);
const cKey=Plot.plot({width:93,height:14,margin:0,x:{domain:[-6.26,6.386],axis:null},y:{axis:null,domain:[0,1]},color:cColor,style:{background:"none"},
  marks:[Plot.rect(cStops,{x1:d=>d,x2:d=>d+.3,y1:0,y2:1,fill:d=>d})]});
place(cKey,170,660);
text("Activation z-score",101,664,8.2,"color:#999");text("-6,260",171,679,8.2,"color:#999");text("6,386",241,679,8.2,"color:#999");

// Panel D: coordinates of the network layout
text("D",0,941,22);
const dAt={CALCA:[155,46.5,8.5,8.5],PLAUR:[233.5,72,7.5,17],TNFRSF11B:[155,180,8,17]};
const poly=(id,cx,cy,rx,ry,n,rot)=>d3.range(n+1).map(k=>({id,x:cx+rx*Math.cos(rot+k/n*2*Math.PI),y:cy+ry*Math.sin(rot+k/n*2*Math.PI)}));
const dShapes=[...Object.entries(dAt).flatMap(([k,v])=>poly(k,...v,48,0)),...poly("tri1",106.5,112,8.5,9,3,Math.PI/2),...poly("tri2",233.5,154,8.5,9,3,Math.PI/2)];
const dHub=poly("hub",175,113.5,10.8,10.8,8,Math.PI/8);
const dEdges=[{a:[158,55],b:[174,101]},{a:[226,78],b:[186,106]},{a:[112,113],b:[163,113]},{a:[160,165],b:[172,125]},{a:[228,149],b:[186,120]}];
const dPlot=Plot.plot({width:320,height:199,margin:0,x:{domain:[0,320],axis:null},y:{domain:[0,199],range:[0,199],axis:null},
  style:{background:"none",fontFamily:"Liberation Sans"},
  marks:[
    Plot.line(dShapes,{x:"x",y:"y",z:"id",fill:"#fbe2e2",stroke:"#aaa",strokeWidth:.8}),
    Plot.arrow(dEdges,{x1:d=>d.a[0],y1:d=>d.a[1],x2:d=>d.b[0],y2:d=>d.b[1],stroke:"#e86a0a",strokeWidth:1.5,strokeDasharray:"6,3",headLength:9}),
    Plot.line(dHub,{x:"x",y:"y",fill:"#e86500",stroke:"#bbb",strokeWidth:.8}),
    Plot.text(dNodes,{x:d=>({CALCA:155,PLAUR:233.5,TNFRSF11B:155,ROR2:233.5})[d],y:d=>({CALCA:47,PLAUR:72,TNFRSF11B:180,ROR2:154.5})[d],text:d=>d,fontSize:8.4,fill:"#333"}),
    Plot.text(["Increased activation of alkaline phosphatase"],{x:175,y:113.7,text:d=>d,fontSize:8.4,fill:"#333"})
  ]});
place(dPlot,0,920);

// Panel E
text("E",352,627,22);
text("P01",437,646,14);text("P02",582,646,14);
const eCells=eZ.flatMap((r,i)=>r.map((z,j)=>({row:eRows[i],col:eCols[j],z})));
const eRange=["#2166ac","#4393c3","#92c5de","#d1e5f0","#f7f7f7","#fddbc7","#f4a582","#d6604d","#b2182b"];
const eDom=[-2.6,-1.95,-1.25,-.6,0,.6,1.25,1.95,2.6];
const ePlot=Plot.plot({width:375,height:310,marginLeft:0,marginRight:86,marginTop:0,marginBottom:52,
  x:{domain:eCols,padding:0,axis:null},y:{domain:eRows,padding:0,axis:null},
  color:{type:"linear",domain:eDom,range:eRange},
  style:{background:"none",fontFamily:"Liberation Sans",overflow:"visible"},
  marks:[
    Plot.cell(eCells,{x:"col",y:"row",fill:"z",stroke:"#b5b5b5",strokeWidth:.7}),
    Plot.axisY({anchor:"right",tickSize:0,tickPadding:2,fontSize:9,fill:"#333",label:null}),
    Plot.axisX({anchor:"bottom",tickSize:0,tickPadding:4,fontSize:8.5,fill:"#666",label:null,tickRotate:-90,textAnchor:"end"})
  ]});
place(ePlot,378,661);
box(522,649,1.5,316,"background:#111");
const eKey=Plot.plot({width:14,height:80,marginLeft:0,marginRight:9,marginTop:0,marginBottom:0,x:{axis:null,domain:[0,1]},y:{domain:[-2.6,2.6],axis:null},color:{type:"linear",domain:eDom,range:eRange},
  style:{background:"none",fontFamily:"Liberation Sans",overflow:"visible"},
  marks:[Plot.rect(d3.range(-2.6,2.6,.1),{y1:d=>d,y2:d=>d+.11,x1:0,x2:1,fill:d=>d}),
    Plot.axisY({ticks:[-2,-1,0,1,2],anchor:"right",tickSize:0,tickPadding:1,fontSize:4.5,fill:"#555",label:null})]});
place(eKey,739,660);
</script></body></html>
